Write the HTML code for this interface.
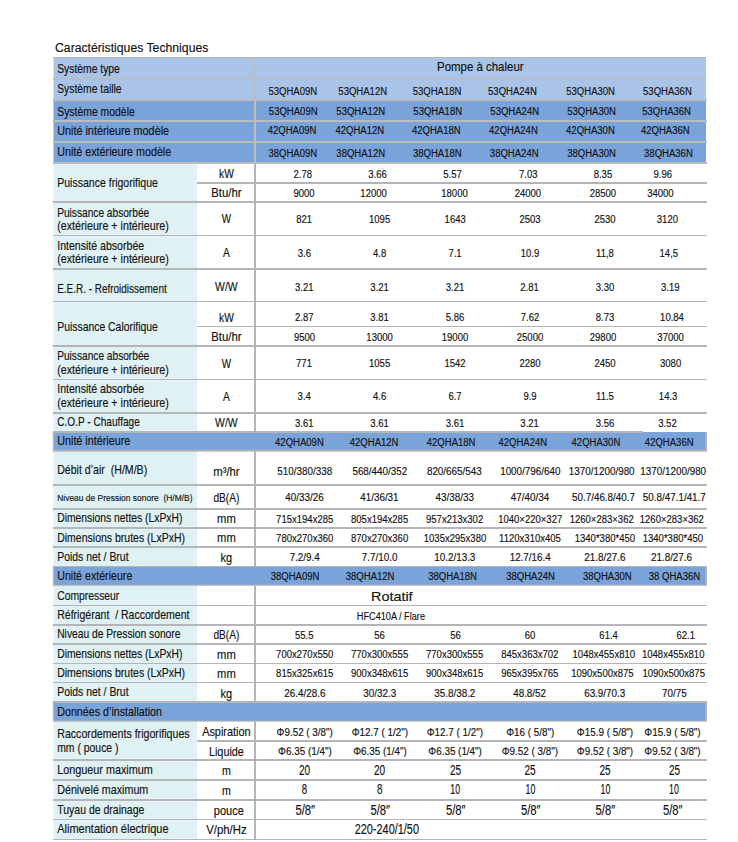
<!DOCTYPE html>
<html><head><meta charset="utf-8"><title>Caractéristiques Techniques</title>
<style>
html,body{margin:0;padding:0;background:#fff}
body{width:738px;height:842px;position:relative;overflow:hidden;font-family:"Liberation Sans",sans-serif}
svg{position:absolute;left:0;top:0}
text{font-family:"Liberation Sans",sans-serif;fill:#111;stroke:#111;stroke-width:0.15px;white-space:pre}
</style></head><body>
<svg width="738" height="842" viewBox="0 0 738 842" xml:space="preserve">
<rect x="53.50" y="58.00" width="652.50" height="42.00" fill="#aac4e7"/>
<rect x="53.50" y="100.00" width="652.50" height="63.00" fill="#7aa3da"/>
<rect x="53.40" y="163.00" width="143.60" height="676.50" fill="#e0f1f3"/>
<rect x="254.00" y="58.00" width="2.00" height="41.00" fill="#b6bece"/>
<rect x="254.00" y="99.00" width="2.00" height="64.00" fill="#bcbcbf"/>
<rect x="254.00" y="163.00" width="2.00" height="676.50" fill="#b4b4b9"/>
<rect x="52.80" y="57.00" width="653.20" height="1.00" fill="#b4b4b9"/>
<rect x="52.80" y="78.00" width="653.20" height="2.00" fill="#b6bece"/>
<rect x="52.80" y="99.00" width="654.20" height="2.00" fill="#bcbcbf"/>
<rect x="52.80" y="120.00" width="654.20" height="2.00" fill="#bcbcbf"/>
<rect x="52.80" y="141.00" width="654.20" height="2.00" fill="#bcbcbf"/>
<rect x="52.80" y="162.00" width="654.20" height="2.00" fill="#bcbcbf"/>
<rect x="52.80" y="201.00" width="654.20" height="2.00" fill="#b4b4b9"/>
<rect x="52.80" y="268.00" width="654.20" height="2.00" fill="#b4b4b9"/>
<rect x="52.80" y="345.00" width="654.20" height="2.00" fill="#b4b4b9"/>
<rect x="52.80" y="412.00" width="654.20" height="2.00" fill="#b4b4b9"/>
<rect x="52.80" y="484.00" width="654.20" height="2.00" fill="#b4b4b9"/>
<rect x="52.80" y="508.00" width="654.20" height="2.00" fill="#b4b4b9"/>
<rect x="52.80" y="527.00" width="654.20" height="2.00" fill="#b4b4b9"/>
<rect x="52.80" y="546.00" width="654.20" height="2.00" fill="#b4b4b9"/>
<rect x="52.80" y="624.00" width="654.20" height="2.00" fill="#b4b4b9"/>
<rect x="52.80" y="643.00" width="654.20" height="2.00" fill="#b4b4b9"/>
<rect x="52.80" y="759.00" width="654.20" height="2.00" fill="#b4b4b9"/>
<rect x="52.80" y="779.00" width="654.20" height="2.00" fill="#b4b4b9"/>
<rect x="52.80" y="799.00" width="654.20" height="2.00" fill="#b4b4b9"/>
<rect x="52.80" y="235.00" width="654.20" height="1.00" fill="#b4b4b9"/>
<rect x="52.80" y="301.00" width="654.20" height="1.00" fill="#b4b4b9"/>
<rect x="52.80" y="379.00" width="654.20" height="1.00" fill="#b4b4b9"/>
<rect x="52.80" y="605.00" width="654.20" height="1.00" fill="#b4b4b9"/>
<rect x="52.80" y="663.00" width="654.20" height="1.00" fill="#b4b4b9"/>
<rect x="52.80" y="682.00" width="654.20" height="1.00" fill="#b4b4b9"/>
<rect x="52.80" y="819.00" width="654.20" height="1.00" fill="#b4b4b9"/>
<rect x="52.80" y="839.00" width="654.20" height="1.00" fill="#b4b4b9"/>
<rect x="197.00" y="182.00" width="510.00" height="2.00" fill="#b4b4b9"/>
<rect x="197.00" y="326.00" width="510.00" height="1.00" fill="#b4b4b9"/>
<rect x="197.00" y="740.00" width="510.00" height="2.00" fill="#b4b4b9"/>
<rect x="52.80" y="432.00" width="654.20" height="19.70" fill="#b4b4b9"/>
<rect x="52.80" y="431.00" width="590.20" height="2.00" fill="#b4b4b9"/>
<rect x="54.20" y="433.00" width="589.00" height="16.80" fill="#7aa3da"/>
<rect x="643.00" y="432.00" width="62.10" height="17.80" fill="#7aa3da"/>
<rect x="52.80" y="566.00" width="654.20" height="19.80" fill="#b4b4b9"/>
<rect x="54.20" y="567.00" width="650.90" height="17.70" fill="#7aa3da"/>
<rect x="52.80" y="701.00" width="654.20" height="20.70" fill="#b4b4b9"/>
<rect x="54.20" y="703.00" width="650.90" height="17.60" fill="#7aa3da"/>
<text transform="translate(55.00,52) scale(0.9201,1)" font-size="13.30">Caractéristiques Techniques</text>
<text transform="translate(57.20,73) scale(0.8347,1)" font-size="12.40">Système type</text>
<text transform="translate(57.20,93) scale(0.8344,1)" font-size="12.40">Système taille</text>
<text transform="translate(57.20,116) scale(0.8413,1)" font-size="12.40">Système modèle</text>
<text transform="translate(57.20,135) scale(0.8744,1)" font-size="12.40">Unité intérieure modèle</text>
<text transform="translate(57.20,156) scale(0.8667,1)" font-size="12.40">Unité extérieure modèle</text>
<text transform="translate(57.20,187) scale(0.8503,1)" font-size="12.40">Puissance frigorifique</text>
<text transform="translate(57.20,217) scale(0.8188,1)" font-size="12.40">Puissance absorbée</text>
<text transform="translate(57.20,230) scale(0.8636,1)" font-size="12.40">(extérieure + intérieure)</text>
<text transform="translate(57.20,250) scale(0.8527,1)" font-size="12.40">Intensité absorbée</text>
<text transform="translate(57.20,263) scale(0.8636,1)" font-size="12.40">(extérieure + intérieure)</text>
<text transform="translate(57.20,293) scale(0.8033,1)" font-size="12.40">E.E.R. - Refroidissement</text>
<text transform="translate(57.20,331) scale(0.8405,1)" font-size="12.40">Puissance Calorifique</text>
<text transform="translate(57.20,360) scale(0.8188,1)" font-size="12.40">Puissance absorbée</text>
<text transform="translate(57.20,374) scale(0.8636,1)" font-size="12.40">(extérieure + intérieure)</text>
<text transform="translate(57.20,393) scale(0.8527,1)" font-size="12.40">Intensité absorbée</text>
<text transform="translate(57.20,407) scale(0.8636,1)" font-size="12.40">(extérieure + intérieure)</text>
<text transform="translate(57.20,426) scale(0.8143,1)" font-size="12.40">C.O.P - Chauffage</text>
<text transform="translate(57.20,445) scale(0.8705,1)" font-size="12.40">Unité intérieure</text>
<text transform="translate(57.20,474) scale(0.8556,1)" font-size="12.40">Débit d’air  (H/M/B)</text>
<text transform="translate(57.20,522) scale(0.8347,1)" font-size="12.40">Dimensions nettes (LxPxH)</text>
<text transform="translate(57.20,542) scale(0.8475,1)" font-size="12.40">Dimensions brutes (LxPxH)</text>
<text transform="translate(57.20,561) scale(0.8422,1)" font-size="12.40">Poids net / Brut</text>
<text transform="translate(57.20,580) scale(0.8591,1)" font-size="12.40">Unité extérieure</text>
<text transform="translate(57.20,600) scale(0.8357,1)" font-size="12.40">Compresseur</text>
<text transform="translate(57.20,619) scale(0.8500,1)" font-size="12.40">Réfrigérant  / Raccordement</text>
<text transform="translate(57.20,638) scale(0.8288,1)" font-size="12.40">Niveau de Pression sonore</text>
<text transform="translate(57.20,658) scale(0.8347,1)" font-size="12.40">Dimensions nettes (LxPxH)</text>
<text transform="translate(57.20,677) scale(0.8475,1)" font-size="12.40">Dimensions brutes (LxPxH)</text>
<text transform="translate(57.20,696) scale(0.8422,1)" font-size="12.40">Poids net / Brut</text>
<text transform="translate(57.20,716) scale(0.8646,1)" font-size="12.40">Données d’installation</text>
<text transform="translate(57.20,738) scale(0.8589,1)" font-size="12.40">Raccordements frigorifiques</text>
<text transform="translate(57.20,752) scale(0.8407,1)" font-size="12.40">mm ( pouce )</text>
<text transform="translate(57.20,774) scale(0.8733,1)" font-size="12.40">Longueur maximum</text>
<text transform="translate(57.20,794) scale(0.8650,1)" font-size="12.40">Dénivelé maximum</text>
<text transform="translate(57.20,814) scale(0.8470,1)" font-size="12.40">Tuyau de drainage</text>
<text transform="translate(57.20,833) scale(0.8888,1)" font-size="12.40">Alimentation électrique</text>
<text transform="translate(57.20,501) scale(0.9201,1)" font-size="9.20">Niveau de Pression sonore  (H/M/B)</text>
<text transform="translate(226.40,178) scale(0.8266,1)" font-size="12.40" text-anchor="middle">kW</text>
<text transform="translate(226.40,197) scale(0.9159,1)" font-size="12.40" text-anchor="middle">Btu/hr</text>
<text transform="translate(226.40,223) scale(0.7946,1)" font-size="12.40" text-anchor="middle">W</text>
<text transform="translate(226.40,257) scale(0.8222,1)" font-size="12.40" text-anchor="middle">A</text>
<text transform="translate(226.40,291) scale(0.8416,1)" font-size="12.40" text-anchor="middle">W/W</text>
<text transform="translate(226.40,322) scale(0.8266,1)" font-size="12.40" text-anchor="middle">kW</text>
<text transform="translate(226.40,341) scale(0.9159,1)" font-size="12.40" text-anchor="middle">Btu/hr</text>
<text transform="translate(226.40,368) scale(0.7946,1)" font-size="12.40" text-anchor="middle">W</text>
<text transform="translate(226.40,401) scale(0.8222,1)" font-size="12.40" text-anchor="middle">A</text>
<text transform="translate(226.40,427) scale(0.8416,1)" font-size="12.40" text-anchor="middle">W/W</text>
<text transform="translate(226.40,476) scale(0.9126,1)" font-size="12.40" text-anchor="middle">m³/hr</text>
<text transform="translate(226.40,502) scale(0.8203,1)" font-size="12.40" text-anchor="middle">dB(A)</text>
<text transform="translate(226.40,523) scale(0.9052,1)" font-size="12.40" text-anchor="middle">mm</text>
<text transform="translate(226.40,542) scale(0.9052,1)" font-size="12.40" text-anchor="middle">mm</text>
<text transform="translate(226.40,562) scale(0.8857,1)" font-size="12.40" text-anchor="middle">kg</text>
<text transform="translate(226.40,639) scale(0.8203,1)" font-size="12.40" text-anchor="middle">dB(A)</text>
<text transform="translate(226.40,659) scale(0.9052,1)" font-size="12.40" text-anchor="middle">mm</text>
<text transform="translate(226.40,678) scale(0.9052,1)" font-size="12.40" text-anchor="middle">mm</text>
<text transform="translate(226.40,698) scale(0.8857,1)" font-size="12.40" text-anchor="middle">kg</text>
<text transform="translate(226.40,736) scale(0.8814,1)" font-size="12.40" text-anchor="middle">Aspiration</text>
<text transform="translate(226.40,756) scale(0.8752,1)" font-size="12.40" text-anchor="middle">Liquide</text>
<text transform="translate(226.40,775) scale(0.8600,1)" font-size="12.40" text-anchor="middle">m</text>
<text transform="translate(226.40,795) scale(0.8600,1)" font-size="12.40" text-anchor="middle">m</text>
<text transform="translate(228.80,815) scale(0.8880,1)" font-size="12.40" text-anchor="middle">pouce</text>
<text transform="translate(226.40,834) scale(0.9182,1)" font-size="12.40" text-anchor="middle">V/ph/Hz</text>
<text transform="translate(480.30,71) scale(0.9091,1)" font-size="12.60" text-anchor="middle">Pompe à chaleur</text>
<text transform="translate(292.80,95) scale(0.8670,1)" font-size="11.00" text-anchor="middle">53QHA09N</text>
<text transform="translate(362.70,95) scale(0.8670,1)" font-size="11.00" text-anchor="middle">53QHA12N</text>
<text transform="translate(437.00,95) scale(0.8670,1)" font-size="11.00" text-anchor="middle">53QHA18N</text>
<text transform="translate(512.40,95) scale(0.8670,1)" font-size="11.00" text-anchor="middle">53QHA24N</text>
<text transform="translate(590.60,95) scale(0.8670,1)" font-size="11.00" text-anchor="middle">53QHA30N</text>
<text transform="translate(667.40,95) scale(0.8670,1)" font-size="11.00" text-anchor="middle">53QHA36N</text>
<text transform="translate(293.20,115) scale(0.8670,1)" font-size="11.00" text-anchor="middle">53QHA09N</text>
<text transform="translate(360.70,115) scale(0.8670,1)" font-size="11.00" text-anchor="middle">53QHA12N</text>
<text transform="translate(437.70,115) scale(0.8670,1)" font-size="11.00" text-anchor="middle">53QHA18N</text>
<text transform="translate(514.70,115) scale(0.8670,1)" font-size="11.00" text-anchor="middle">53QHA24N</text>
<text transform="translate(591.50,115) scale(0.8670,1)" font-size="11.00" text-anchor="middle">53QHA30N</text>
<text transform="translate(666.60,115) scale(0.8670,1)" font-size="11.00" text-anchor="middle">53QHA36N</text>
<text transform="translate(292.00,134) scale(0.8670,1)" font-size="11.00" text-anchor="middle">42QHA09N</text>
<text transform="translate(359.80,134) scale(0.8670,1)" font-size="11.00" text-anchor="middle">42QHA12N</text>
<text transform="translate(436.30,134) scale(0.8670,1)" font-size="11.00" text-anchor="middle">42QHA18N</text>
<text transform="translate(513.40,134) scale(0.8670,1)" font-size="11.00" text-anchor="middle">42QHA24N</text>
<text transform="translate(590.40,134) scale(0.8670,1)" font-size="11.00" text-anchor="middle">42QHA30N</text>
<text transform="translate(665.30,134) scale(0.8670,1)" font-size="11.00" text-anchor="middle">42QHA36N</text>
<text transform="translate(292.80,157) scale(0.8670,1)" font-size="11.00" text-anchor="middle">38QHA09N</text>
<text transform="translate(360.70,157) scale(0.8670,1)" font-size="11.00" text-anchor="middle">38QHA12N</text>
<text transform="translate(437.30,157) scale(0.8670,1)" font-size="11.00" text-anchor="middle">38QHA18N</text>
<text transform="translate(514.20,157) scale(0.8670,1)" font-size="11.00" text-anchor="middle">38QHA24N</text>
<text transform="translate(591.50,157) scale(0.8670,1)" font-size="11.00" text-anchor="middle">38QHA30N</text>
<text transform="translate(668.40,157) scale(0.8670,1)" font-size="11.00" text-anchor="middle">38QHA36N</text>
<text transform="translate(302.80,178) scale(0.8670,1)" font-size="11.00" text-anchor="middle">2.78</text>
<text transform="translate(377.50,178) scale(0.8670,1)" font-size="11.00" text-anchor="middle">3.66</text>
<text transform="translate(452.50,178) scale(0.8670,1)" font-size="11.00" text-anchor="middle">5.57</text>
<text transform="translate(528.20,178) scale(0.8670,1)" font-size="11.00" text-anchor="middle">7.03</text>
<text transform="translate(602.90,178) scale(0.8670,1)" font-size="11.00" text-anchor="middle">8.35</text>
<text transform="translate(662.80,178) scale(0.8670,1)" font-size="11.00" text-anchor="middle">9.96</text>
<text transform="translate(304.00,197) scale(0.8670,1)" font-size="11.00" text-anchor="middle">9000</text>
<text transform="translate(373.60,197) scale(0.8670,1)" font-size="11.00" text-anchor="middle">12000</text>
<text transform="translate(454.50,197) scale(0.8670,1)" font-size="11.00" text-anchor="middle">18000</text>
<text transform="translate(527.90,197) scale(0.8670,1)" font-size="11.00" text-anchor="middle">24000</text>
<text transform="translate(602.90,197) scale(0.8670,1)" font-size="11.00" text-anchor="middle">28500</text>
<text transform="translate(660.40,197) scale(0.8670,1)" font-size="11.00" text-anchor="middle">34000</text>
<text transform="translate(304.20,223) scale(0.8670,1)" font-size="11.00" text-anchor="middle">821</text>
<text transform="translate(379.60,223) scale(0.8670,1)" font-size="11.00" text-anchor="middle">1095</text>
<text transform="translate(455.20,223) scale(0.8670,1)" font-size="11.00" text-anchor="middle">1643</text>
<text transform="translate(530.00,223) scale(0.8670,1)" font-size="11.00" text-anchor="middle">2503</text>
<text transform="translate(605.00,223) scale(0.8670,1)" font-size="11.00" text-anchor="middle">2530</text>
<text transform="translate(667.40,223) scale(0.8670,1)" font-size="11.00" text-anchor="middle">3120</text>
<text transform="translate(304.40,257) scale(0.8670,1)" font-size="11.00" text-anchor="middle">3.6</text>
<text transform="translate(379.60,257) scale(0.8670,1)" font-size="11.00" text-anchor="middle">4.8</text>
<text transform="translate(455.00,257) scale(0.8670,1)" font-size="11.00" text-anchor="middle">7.1</text>
<text transform="translate(530.00,257) scale(0.8670,1)" font-size="11.00" text-anchor="middle">10.9</text>
<text transform="translate(605.00,257) scale(0.8670,1)" font-size="11.00" text-anchor="middle">11,8</text>
<text transform="translate(668.80,257) scale(0.8670,1)" font-size="11.00" text-anchor="middle">14,5</text>
<text transform="translate(304.20,291) scale(0.8670,1)" font-size="11.00" text-anchor="middle">3.21</text>
<text transform="translate(379.60,291) scale(0.8670,1)" font-size="11.00" text-anchor="middle">3.21</text>
<text transform="translate(455.00,291) scale(0.8670,1)" font-size="11.00" text-anchor="middle">3.21</text>
<text transform="translate(529.60,291) scale(0.8670,1)" font-size="11.00" text-anchor="middle">2.81</text>
<text transform="translate(605.00,291) scale(0.8670,1)" font-size="11.00" text-anchor="middle">3.30</text>
<text transform="translate(670.20,291) scale(0.8670,1)" font-size="11.00" text-anchor="middle">3.19</text>
<text transform="translate(304.20,321) scale(0.8670,1)" font-size="11.00" text-anchor="middle">2.87</text>
<text transform="translate(379.60,321) scale(0.8670,1)" font-size="11.00" text-anchor="middle">3.81</text>
<text transform="translate(455.00,321) scale(0.8670,1)" font-size="11.00" text-anchor="middle">5.86</text>
<text transform="translate(530.00,321) scale(0.8670,1)" font-size="11.00" text-anchor="middle">7.62</text>
<text transform="translate(605.00,321) scale(0.8670,1)" font-size="11.00" text-anchor="middle">8.73</text>
<text transform="translate(672.00,321) scale(0.8670,1)" font-size="11.00" text-anchor="middle">10.84</text>
<text transform="translate(304.50,341) scale(0.8670,1)" font-size="11.00" text-anchor="middle">9500</text>
<text transform="translate(379.60,341) scale(0.8670,1)" font-size="11.00" text-anchor="middle">13000</text>
<text transform="translate(455.00,341) scale(0.8670,1)" font-size="11.00" text-anchor="middle">19000</text>
<text transform="translate(530.00,341) scale(0.8670,1)" font-size="11.00" text-anchor="middle">25000</text>
<text transform="translate(603.00,341) scale(0.8670,1)" font-size="11.00" text-anchor="middle">29800</text>
<text transform="translate(670.60,341) scale(0.8670,1)" font-size="11.00" text-anchor="middle">37000</text>
<text transform="translate(304.00,367) scale(0.8670,1)" font-size="11.00" text-anchor="middle">771</text>
<text transform="translate(379.60,367) scale(0.8670,1)" font-size="11.00" text-anchor="middle">1055</text>
<text transform="translate(455.00,367) scale(0.8670,1)" font-size="11.00" text-anchor="middle">1542</text>
<text transform="translate(530.00,367) scale(0.8670,1)" font-size="11.00" text-anchor="middle">2280</text>
<text transform="translate(605.00,367) scale(0.8670,1)" font-size="11.00" text-anchor="middle">2450</text>
<text transform="translate(670.60,367) scale(0.8670,1)" font-size="11.00" text-anchor="middle">3080</text>
<text transform="translate(304.20,400) scale(0.8670,1)" font-size="11.00" text-anchor="middle">3.4</text>
<text transform="translate(379.60,400) scale(0.8670,1)" font-size="11.00" text-anchor="middle">4.6</text>
<text transform="translate(455.00,400) scale(0.8670,1)" font-size="11.00" text-anchor="middle">6.7</text>
<text transform="translate(530.00,400) scale(0.8670,1)" font-size="11.00" text-anchor="middle">9.9</text>
<text transform="translate(605.00,400) scale(0.8670,1)" font-size="11.00" text-anchor="middle">11.5</text>
<text transform="translate(668.10,400) scale(0.8670,1)" font-size="11.00" text-anchor="middle">14.3</text>
<text transform="translate(304.20,427) scale(0.8670,1)" font-size="11.00" text-anchor="middle">3.61</text>
<text transform="translate(379.60,427) scale(0.8670,1)" font-size="11.00" text-anchor="middle">3.61</text>
<text transform="translate(455.00,427) scale(0.8670,1)" font-size="11.00" text-anchor="middle">3.61</text>
<text transform="translate(529.60,427) scale(0.8670,1)" font-size="11.00" text-anchor="middle">3.21</text>
<text transform="translate(605.00,427) scale(0.8670,1)" font-size="11.00" text-anchor="middle">3.56</text>
<text transform="translate(667.40,427) scale(0.8670,1)" font-size="11.00" text-anchor="middle">3.52</text>
<text transform="translate(299.40,446) scale(0.8670,1)" font-size="11.00" text-anchor="middle">42QHA09N</text>
<text transform="translate(374.10,446) scale(0.8670,1)" font-size="11.00" text-anchor="middle">42QHA12N</text>
<text transform="translate(451.10,446) scale(0.8670,1)" font-size="11.00" text-anchor="middle">42QHA18N</text>
<text transform="translate(522.80,446) scale(0.8670,1)" font-size="11.00" text-anchor="middle">42QHA24N</text>
<text transform="translate(595.90,446) scale(0.8670,1)" font-size="11.00" text-anchor="middle">42QHA30N</text>
<text transform="translate(669.20,446) scale(0.8670,1)" font-size="11.00" text-anchor="middle">42QHA36N</text>
<text transform="translate(304.70,475) scale(0.8973,1)" font-size="11.00" text-anchor="middle">510/380/338</text>
<text transform="translate(379.80,475) scale(0.8973,1)" font-size="11.00" text-anchor="middle">568/440/352</text>
<text transform="translate(454.30,475) scale(0.8973,1)" font-size="11.00" text-anchor="middle">820/665/543</text>
<text transform="translate(530.30,475) scale(0.8973,1)" font-size="11.00" text-anchor="middle">1000/796/640</text>
<text transform="translate(601.70,475) scale(0.8973,1)" font-size="11.00" text-anchor="middle">1370/1200/980</text>
<text transform="translate(673.20,475) scale(0.8973,1)" font-size="11.00" text-anchor="middle">1370/1200/980</text>
<text transform="translate(304.50,501) scale(0.8973,1)" font-size="11.00" text-anchor="middle">40/33/26</text>
<text transform="translate(379.40,501) scale(0.8973,1)" font-size="11.00" text-anchor="middle">41/36/31</text>
<text transform="translate(454.80,501) scale(0.8973,1)" font-size="11.00" text-anchor="middle">43/38/33</text>
<text transform="translate(530.00,501) scale(0.8973,1)" font-size="11.00" text-anchor="middle">47/40/34</text>
<text transform="translate(603.50,501) scale(0.8973,1)" font-size="11.00" text-anchor="middle">50.7/46.8/40.7</text>
<text transform="translate(674.30,501) scale(0.8973,1)" font-size="11.00" text-anchor="middle">50.8/47.1/41.7</text>
<text transform="translate(304.70,523) scale(0.8670,1)" font-size="11.00" text-anchor="middle">715x194x285</text>
<text transform="translate(379.60,523) scale(0.8670,1)" font-size="11.00" text-anchor="middle">805x194x285</text>
<text transform="translate(454.60,523) scale(0.8670,1)" font-size="11.00" text-anchor="middle">957x213x302</text>
<text transform="translate(530.20,523) scale(0.8670,1)" font-size="11.00" text-anchor="middle">1040×220×327</text>
<text transform="translate(601.70,523) scale(0.8670,1)" font-size="11.00" text-anchor="middle">1260×283×362</text>
<text transform="translate(671.80,523) scale(0.8670,1)" font-size="11.00" text-anchor="middle">1260×283×362</text>
<text transform="translate(304.70,542) scale(0.8670,1)" font-size="11.00" text-anchor="middle">780x270x360</text>
<text transform="translate(379.60,542) scale(0.8670,1)" font-size="11.00" text-anchor="middle">870x270x360</text>
<text transform="translate(455.00,542) scale(0.8670,1)" font-size="11.00" text-anchor="middle">1035x295x380</text>
<text transform="translate(530.00,542) scale(0.8670,1)" font-size="11.00" text-anchor="middle">1120x310x405</text>
<text transform="translate(604.90,542) scale(0.8670,1)" font-size="11.00" text-anchor="middle">1340*380*450</text>
<text transform="translate(672.90,542) scale(0.8670,1)" font-size="11.00" text-anchor="middle">1340*380*450</text>
<text transform="translate(304.70,561) scale(0.8973,1)" font-size="11.00" text-anchor="middle">7.2/9.4</text>
<text transform="translate(379.60,561) scale(0.8973,1)" font-size="11.00" text-anchor="middle">7.7/10.0</text>
<text transform="translate(454.80,561) scale(0.8973,1)" font-size="11.00" text-anchor="middle">10.2/13.3</text>
<text transform="translate(530.20,561) scale(0.8973,1)" font-size="11.00" text-anchor="middle">12.7/16.4</text>
<text transform="translate(604.90,561) scale(0.8973,1)" font-size="11.00" text-anchor="middle">21.8/27.6</text>
<text transform="translate(671.50,561) scale(0.8973,1)" font-size="11.00" text-anchor="middle">21.8/27.6</text>
<text transform="translate(295.00,580) scale(0.8670,1)" font-size="11.00" text-anchor="middle">38QHA09N</text>
<text transform="translate(370.10,580) scale(0.8670,1)" font-size="11.00" text-anchor="middle">38QHA12N</text>
<text transform="translate(452.50,580) scale(0.8670,1)" font-size="11.00" text-anchor="middle">38QHA18N</text>
<text transform="translate(530.50,580) scale(0.8670,1)" font-size="11.00" text-anchor="middle">38QHA24N</text>
<text transform="translate(607.30,580) scale(0.8670,1)" font-size="11.00" text-anchor="middle">38QHA30N</text>
<text transform="translate(674.50,580) scale(0.8670,1)" font-size="11.00" text-anchor="middle">38 QHA36N</text>
<text transform="translate(391.80,601) scale(1.0767,1)" font-size="13.40" text-anchor="middle">Rotatif</text>
<text transform="translate(390.90,620) scale(0.8325,1)" font-size="11.00" text-anchor="middle">HFC410A / Flare</text>
<text transform="translate(304.20,639) scale(0.8670,1)" font-size="11.00" text-anchor="middle">55.5</text>
<text transform="translate(379.60,639) scale(0.8670,1)" font-size="11.00" text-anchor="middle">56</text>
<text transform="translate(455.50,639) scale(0.8670,1)" font-size="11.00" text-anchor="middle">56</text>
<text transform="translate(530.00,639) scale(0.8670,1)" font-size="11.00" text-anchor="middle">60</text>
<text transform="translate(608.60,639) scale(0.8670,1)" font-size="11.00" text-anchor="middle">61.4</text>
<text transform="translate(685.70,639) scale(0.8670,1)" font-size="11.00" text-anchor="middle">62.1</text>
<text transform="translate(304.70,658) scale(0.8670,1)" font-size="11.00" text-anchor="middle">700x270x550</text>
<text transform="translate(379.60,658) scale(0.8670,1)" font-size="11.00" text-anchor="middle">770x300x555</text>
<text transform="translate(454.60,658) scale(0.8670,1)" font-size="11.00" text-anchor="middle">770x300x555</text>
<text transform="translate(529.80,658) scale(0.8670,1)" font-size="11.00" text-anchor="middle">845x363x702</text>
<text transform="translate(603.80,658) scale(0.8670,1)" font-size="11.00" text-anchor="middle">1048x455x810</text>
<text transform="translate(673.20,658) scale(0.8670,1)" font-size="11.00" text-anchor="middle">1048x455x810</text>
<text transform="translate(304.70,677) scale(0.8670,1)" font-size="11.00" text-anchor="middle">815x325x615</text>
<text transform="translate(379.60,677) scale(0.8670,1)" font-size="11.00" text-anchor="middle">900x348x615</text>
<text transform="translate(454.60,677) scale(0.8670,1)" font-size="11.00" text-anchor="middle">900x348x615</text>
<text transform="translate(529.80,677) scale(0.8670,1)" font-size="11.00" text-anchor="middle">965x395x765</text>
<text transform="translate(602.40,677) scale(0.8670,1)" font-size="11.00" text-anchor="middle">1090x500x875</text>
<text transform="translate(673.70,677) scale(0.8670,1)" font-size="11.00" text-anchor="middle">1090x500x875</text>
<text transform="translate(304.90,697) scale(0.8973,1)" font-size="11.00" text-anchor="middle">26.4/28.6</text>
<text transform="translate(379.80,697) scale(0.8973,1)" font-size="11.00" text-anchor="middle">30/32.3</text>
<text transform="translate(454.80,697) scale(0.8973,1)" font-size="11.00" text-anchor="middle">35.8/38.2</text>
<text transform="translate(529.60,697) scale(0.8973,1)" font-size="11.00" text-anchor="middle">48.8/52</text>
<text transform="translate(604.70,697) scale(0.8973,1)" font-size="11.00" text-anchor="middle">63.9/70.3</text>
<text transform="translate(674.30,697) scale(0.8973,1)" font-size="11.00" text-anchor="middle">70/75</text>
<text transform="translate(304.70,736) scale(0.8973,1)" font-size="11.00" text-anchor="middle">Φ9.52 ( 3/8")</text>
<text transform="translate(379.80,736) scale(0.8973,1)" font-size="11.00" text-anchor="middle">Φ12.7 ( 1/2")</text>
<text transform="translate(454.80,736) scale(0.8973,1)" font-size="11.00" text-anchor="middle">Φ12.7 ( 1/2")</text>
<text transform="translate(530.20,736) scale(0.8973,1)" font-size="11.00" text-anchor="middle">Φ16 ( 5/8")</text>
<text transform="translate(605.00,736) scale(0.8973,1)" font-size="11.00" text-anchor="middle">Φ15.9 ( 5/8")</text>
<text transform="translate(672.50,736) scale(0.8973,1)" font-size="11.00" text-anchor="middle">Φ15.9 ( 5/8")</text>
<text transform="translate(304.90,755) scale(0.8973,1)" font-size="11.00" text-anchor="middle">Φ6.35 (1/4")</text>
<text transform="translate(380.00,755) scale(0.8973,1)" font-size="11.00" text-anchor="middle">Φ6.35 (1/4")</text>
<text transform="translate(455.10,755) scale(0.8973,1)" font-size="11.00" text-anchor="middle">Φ6.35 (1/4")</text>
<text transform="translate(529.80,755) scale(0.8973,1)" font-size="11.00" text-anchor="middle">Φ9.52 ( 3/8")</text>
<text transform="translate(605.00,755) scale(0.8973,1)" font-size="11.00" text-anchor="middle">Φ9.52 ( 3/8")</text>
<text transform="translate(672.50,755) scale(0.8973,1)" font-size="11.00" text-anchor="middle">Φ9.52 ( 3/8")</text>
<text transform="translate(304.50,775) scale(0.7192,1)" font-size="14.00" text-anchor="middle">20</text>
<text transform="translate(379.60,775) scale(0.7192,1)" font-size="14.00" text-anchor="middle">20</text>
<text transform="translate(455.60,775) scale(0.7192,1)" font-size="14.00" text-anchor="middle">25</text>
<text transform="translate(530.00,775) scale(0.7192,1)" font-size="14.00" text-anchor="middle">25</text>
<text transform="translate(605.00,775) scale(0.7192,1)" font-size="14.00" text-anchor="middle">25</text>
<text transform="translate(674.50,775) scale(0.7192,1)" font-size="14.00" text-anchor="middle">25</text>
<text transform="translate(304.50,794) scale(0.6935,1)" font-size="14.00" text-anchor="middle">8</text>
<text transform="translate(379.60,794) scale(0.6935,1)" font-size="14.00" text-anchor="middle">8</text>
<text transform="translate(455.20,794) scale(0.6293,1)" font-size="14.00" text-anchor="middle">10</text>
<text transform="translate(530.50,794) scale(0.6293,1)" font-size="14.00" text-anchor="middle">10</text>
<text transform="translate(605.50,794) scale(0.6293,1)" font-size="14.00" text-anchor="middle">10</text>
<text transform="translate(674.00,794) scale(0.6293,1)" font-size="14.00" text-anchor="middle">10</text>
<text transform="translate(305.20,815) scale(0.8027,1)" font-size="14.00" text-anchor="middle">5/8″</text>
<text transform="translate(380.30,815) scale(0.8027,1)" font-size="14.00" text-anchor="middle">5/8″</text>
<text transform="translate(455.70,815) scale(0.8027,1)" font-size="14.00" text-anchor="middle">5/8″</text>
<text transform="translate(530.70,815) scale(0.8027,1)" font-size="14.00" text-anchor="middle">5/8″</text>
<text transform="translate(605.40,815) scale(0.8027,1)" font-size="14.00" text-anchor="middle">5/8″</text>
<text transform="translate(672.70,815) scale(0.8027,1)" font-size="14.00" text-anchor="middle">5/8″</text>
<text transform="translate(386.80,834) scale(0.7804,1)" font-size="14.00" text-anchor="middle">220-240/1/50</text>
</svg>
</body></html>
